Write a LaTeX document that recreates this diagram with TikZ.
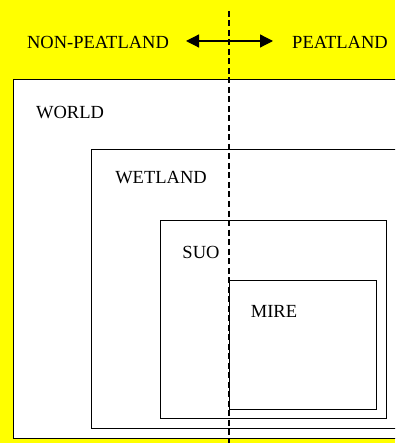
\documentclass[tikz,border=0pt]{standalone}
\usepackage{fontspec}
\setmainfont{Liberation Serif}
\usetikzlibrary{arrows.meta}
\definecolor{bgyellow}{RGB}{255,255,0}
\tikzset{
  box/.style={draw=black, line width=1pt, fill=white},
  lbl/.style={font=\fontsize{18.5}{20}\selectfont, inner sep=0pt, anchor=center},
  divider/.style={draw=black, line width=1.8pt, dash pattern=on 6pt off 3.5pt},
  dbl/.style={draw=black, line width=1.2pt, {Triangle[length=13pt,width=13pt]}-{Triangle[length=13pt,width=13pt]}}
}
\begin{document}
\begin{tikzpicture}[x=1pt,y=-1pt]
\fill[bgyellow] (0,0) rectangle (395,443);
\useasboundingbox (0,0) rectangle (395,443);
\begin{scope}
\clip (0,0) rectangle (395,443);
\draw[box] (13,80) rectangle (400,438);
\draw[box] (91,150) rectangle (398,428);
\draw[box] (160,220) rectangle (386,418);
\draw[box] (229,280) rectangle (376,409);
\end{scope}
\node[lbl] (np) at (98,42) {NON-PEATLAND};
\node[lbl] (p) at (340,42) {PEATLAND};
\node[lbl] (world) at (70,112.5) {WORLD};
\node[lbl] (wet) at (161,177.5) {WETLAND};
\node[lbl] (suo) at (201,252) {SUO};
\node[lbl] (mire) at (274,311) {MIRE};
\coordinate (al) at (186,41);
\coordinate (ar) at (273,41);
\draw[dbl] (al) -- (ar);
\coordinate (dt) at (229,11);
\coordinate (db) at (229,443);
\draw[divider] (dt) -- (db);
\end{tikzpicture}
\end{document}
